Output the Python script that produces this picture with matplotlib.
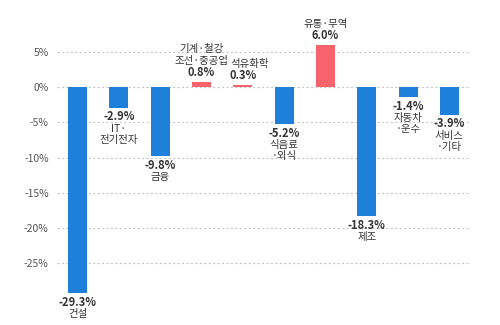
import matplotlib
matplotlib.use("Agg")
import matplotlib.pyplot as plt

plt.rcParams["font.family"] = ["Noto Sans CJK KR", "DejaVu Sans"]

industries = ["건설", "IT·\n전기전자", "금융", "기계·철강\n조선·중공업", "석유화학",
              "식음료\n·외식", "유통·무역", "제조", "자동차\n·운수", "서비스\n·기타"]
changes = [-29.3, -2.9, -9.8, 0.8, 0.3, -5.2, 6.0, -18.3, -1.4, -3.9]
yticks = [5, 0, -5, -10, -15, -20, -25]

BLUE = "#1e80d9"
RED = "#f6636c"
TEXT = "#333333"

fig = plt.figure(figsize=(5, 3.25), dpi=100)
ax = fig.add_axes([0.114, 0.018, 0.826, 0.908])

x = list(range(len(changes)))
colors = [RED if v > 0 else BLUE for v in changes]
ax.bar(x, changes, width=0.46, color=colors, zorder=3)

ax.set_xlim(-0.5, len(changes) - 0.5)
ax.set_ylim(-33, 9)
ax.set_yticks(yticks)
ax.set_yticklabels([f"{t}%" for t in yticks], fontsize=7.5, color="#555555")
ax.set_xticks([])
ax.tick_params(axis="y", length=0, pad=6)
for spine in ax.spines.values():
    spine.set_visible(False)
for t in yticks:
    ax.axhline(t, color="#c8c8c8", lw=0.8, ls=(0, (2, 2)), zorder=1)

# value just past the bar end, industry name beyond it
for i, (name, v) in enumerate(zip(industries, changes)):
    up = v > 0
    sign = 1 if up else -1
    va = "bottom" if up else "top"
    dx = 5 if name == "석유화학" else 0
    ax.annotate(f"{v:.1f}%", (i, v), xytext=(0, 2 * sign), textcoords="offset points",
                ha="center", va=va, fontsize=8, fontweight="bold", color=TEXT,
                annotation_clip=False)
    ax.annotate(name, (i, v), xytext=(dx, 11.5 * sign), textcoords="offset points",
                ha="center", va=va, fontsize=7.5, color=TEXT, linespacing=1.15,
                annotation_clip=False)

fig.savefig("out.png", dpi=100)
